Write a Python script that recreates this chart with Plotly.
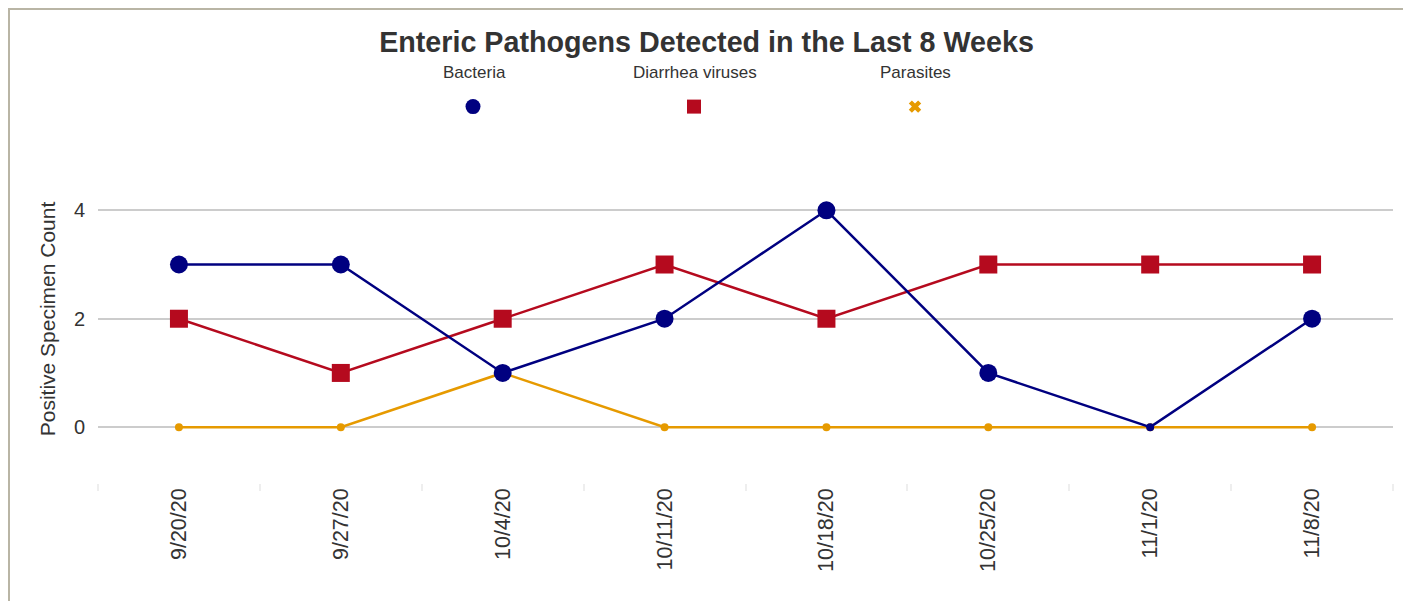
import plotly.graph_objects as go

weeks = ["9/20/20", "9/27/20", "10/4/20", "10/11/20", "10/18/20", "10/25/20", "11/1/20", "11/8/20"]
bacteria = [3, 3, 1, 2, 4, 1, 0, 2]
diarrhea_viruses = [2, 1, 2, 3, 2, 3, 3, 3]
parasites = [0, 0, 1, 0, 0, 0, 0, 0]

series_names = ["Bacteria", "Diarrhea viruses", "Parasites"]
series_colors = ["#000080", "#B50A1E", "#E69A00"]
series_symbols = ["circle", "square", "x"]

OFF = 8  # the page body adds an 8px margin around the figure
W, H = 1411 - OFF, 601 - OFF
# plot area in page pixels (reference coordinates)
PL, PR, PT, PB = 98, 1393, 155, 483
L, R, T, B = PL - OFF, PR - OFF, PT - OFF, PB - OFF


def px_x(x):
    return (x - PL) / (PR - PL)


def px_y(y):
    return (PB - y) / (PB - PT)


FONT = "Arial, Liberation Sans, Helvetica, sans-serif"
fig = go.Figure()

data_sets = [parasites, diarrhea_viruses, bacteria]
order = [2, 1, 0]
big = {"circle": 18, "square": 18, "x": 13}
for idx, vals in zip(order, data_sets):
    sym = series_symbols[idx]
    fig.add_trace(go.Scatter(
        x=weeks, y=vals, mode="lines+markers", name=series_names[idx],
        showlegend=False,
        line=dict(color=series_colors[idx], width=2.5),
        marker=dict(
            color=series_colors[idx], opacity=1,
            symbol=[sym if v > 0 else "circle" for v in vals],
            size=[big[sym] if v > 0 else 8 for v in vals],
            line=dict(width=0),
        ),
        hovertemplate="%{x}: %{y}<extra>" + series_names[idx] + "</extra>",
    ))

# legend markers (labels drawn above them as annotations)
for i, name in enumerate(series_names):
    fig.add_trace(go.Scatter(
        x=[None], y=[None], mode="markers", name=" ",
        showlegend=True, legendgroup=name,
        marker=dict(color=series_colors[i], symbol=series_symbols[i],
                    size=[15, 14, 11][i], opacity=1, line=dict(width=0)),
    ))

legend_centers = [473, 694, 914]
annotations = [
    dict(text=name, xref="paper", yref="paper",
         x=px_x(legend_centers[i] + 1), y=px_y(72),
         xanchor="center", yanchor="middle", showarrow=False,
         font=dict(family=FONT, size=17, color="#333333"))
    for i, name in enumerate(series_names)
]

fig.update_layout(
    width=W, height=H,
    margin=dict(l=L, r=W - R, t=T, b=H - B, pad=0, autoexpand=False),
    paper_bgcolor="white", plot_bgcolor="white",
    title=dict(text="<b>Enteric Pathogens Detected in the Last 8 Weeks</b>",
               x=0.5 - 3 / W, xanchor="center", xref="container",
               y=1 - (32 - OFF) / H, yanchor="top", yref="container",
               font=dict(family=FONT, size=28.7, color="#333333")),
    legend=dict(
        orientation="h", x=px_x(legend_centers[0] - 20), xanchor="left",
        y=px_y(107), yanchor="middle",
        entrywidth=176, entrywidthmode="pixels", itemsizing="trace",
        bgcolor="rgba(0,0,0,0)", font=dict(family=FONT, size=14, color="#333333"),
    ),
    annotations=annotations,
    xaxis=dict(
        type="category", tickangle=-90, tickson="boundaries", automargin=False,
        ticks="outside", ticklen=7, tickcolor="#eeeeee", tickwidth=1.5,
        showgrid=False, zeroline=False, showline=False,
        tickfont=dict(family=FONT, size=21.5, color="#333333"),
        range=[-0.5, len(weeks) - 0.5],
    ),
    yaxis=dict(
        range=[-1.03, 5.02], tickvals=[0, 2, 4], automargin=False,
        showgrid=True, gridcolor="#cccccc", gridwidth=1.5,
        zeroline=False, showline=False, ticks="", ticklen=0,
        ticklabelstandoff=12,
        tickfont=dict(family=FONT, size=20, color="#333333"),
        title=dict(text="Positive Specimen Count", standoff=12,
                   font=dict(family=FONT, size=21, color="#333333")),
    ),
    shapes=[dict(type="rect", xref="paper", yref="paper",
                 x0=px_x(OFF + 1), x1=px_x(1407), y0=px_y(620), y1=px_y(OFF + 1),
                 line=dict(color="#B9B5A5", width=2), fillcolor="rgba(0,0,0,0)",
                 layer="below")],
)

fig.write_html("out.html")
